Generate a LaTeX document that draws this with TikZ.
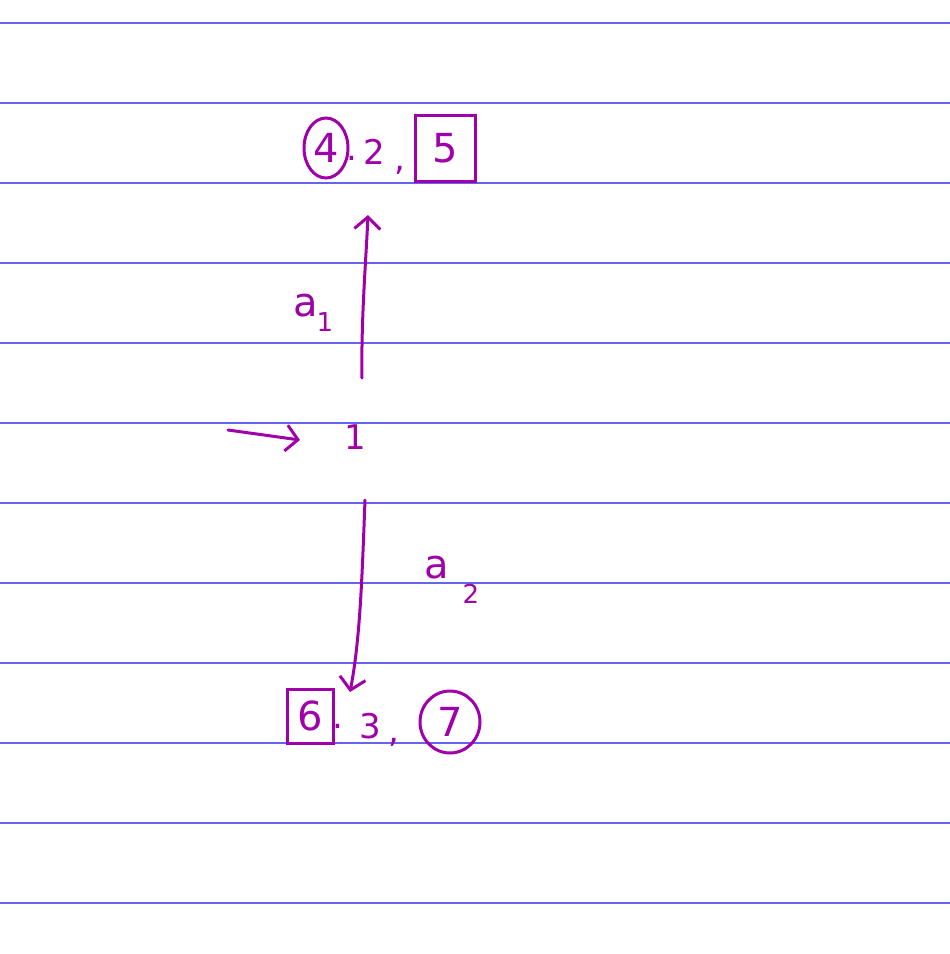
\documentclass[tikz,border=0pt]{standalone}
\usepackage{fontspec}
\setmainfont{DejaVu Sans}
\usetikzlibrary{arrows.meta,shapes.geometric}
\definecolor{ruleblue}{RGB}{100,100,240}
\definecolor{pen}{RGB}{160,0,170}
\begin{document}
\begin{tikzpicture}[x=1pt,y=-1pt,
  inkline/.style={draw=pen, line width=3pt, line cap=round, line join=round},
  lbl/.style={text=pen, font=\fontsize{34}{36}\selectfont, inner sep=0pt},
  big/.style={text=pen, font=\fontsize{40}{42}\selectfont, inner sep=0pt},
  small/.style={text=pen, font=\fontsize{26}{28}\selectfont, inner sep=0pt},
  circled/.style={big, ellipse, draw=pen, line width=3pt},
  boxed/.style={big, rectangle, draw=pen, line width=3pt},
  arr/.style={inkline, -{Straight Barb[length=12pt,width=26pt,line width=3pt]}}]
\useasboundingbox[fill=white] (0,0) rectangle (950,954);
\foreach \y in {23,103,...,903} \draw[ruleblue, line width=2.2pt] (0,\y) -- (950,\y);
% top row
\node[circled, minimum width=44pt, minimum height=60pt] (n4) at (326,148) {4};
\node[lbl] (d1) at (352,158) {.};
\node[lbl] (n2) at (374,152) {2};
\node[lbl] (c1) at (400,170) {,};
\node[boxed, minimum width=60pt, minimum height=66pt] (n5) at (445,148) {5};
% start marker and state 1
\coordinate (s0) at (228,430);
\coordinate (s1) at (300,440);
\draw[arr] (s0) -- (s1);
\node[lbl] (n1) at (355,437) {1};
% arrow a1
\coordinate (a1s) at (362,378);
\coordinate (a1e) at (368,215);
\draw[arr] (a1s) .. controls (361,320) and (366,260) .. (a1e);
\node[big] (la) at (306,306) {a};
\node[small] (l1) at (325,322) {1};
% arrow a2
\coordinate (a2s) at (365,500);
\coordinate (a2e) at (350,692);
\draw[arr] (a2s) .. controls (362,580) and (360,640) .. (a2e);
\node[big] (lb) at (437,568) {a};
\node[small] (l2) at (471,594) {2};
% bottom row
\node[boxed, minimum width=46pt, minimum height=54pt] (n6) at (310,716) {6};
\node[lbl] (d2) at (338,726) {.};
\node[lbl] (n3) at (370,726) {3};
\node[lbl] (c2) at (394,742) {,};
\node[circled, minimum width=60pt, minimum height=62pt] (n7) at (450,722) {7};
\end{tikzpicture}
\end{document}
